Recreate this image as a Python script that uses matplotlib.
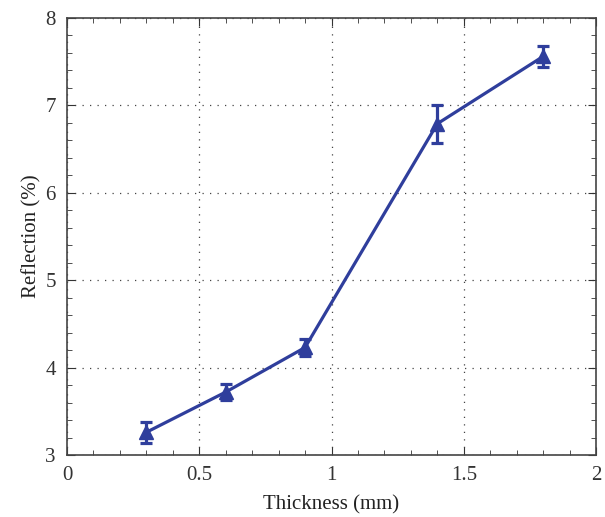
import matplotlib
matplotlib.use("Agg")
import matplotlib.pyplot as plt
from matplotlib.ticker import MultipleLocator

# data
thickness = [0.3, 0.6, 0.9, 1.4, 1.8]
reflection = [3.26, 3.72, 4.23, 6.79, 7.56]
err = [0.12, 0.09, 0.10, 0.22, 0.12]

xticks = [0, 0.5, 1, 1.5, 2]
xtick_labels = ['0', '0.5', '1', '1.5', '2']
yticks = [3, 4, 5, 6, 7, 8]

plt.rcParams['font.family'] = ['Liberation Serif', 'DejaVu Serif']

fig = plt.figure(figsize=(6.05, 5.17), dpi=100)
ax = fig.add_axes([67/605, 62/517, 529/605, 437/517])

ax.errorbar(thickness, reflection, yerr=err, color='#2F3E9C', lw=2.3, marker='^',
            ms=10, capsize=4, capthick=2.3, elinewidth=2.3)

ax.set_xlim(0, 2)
ax.set_ylim(3, 8)
ax.set_xticks(xticks, xtick_labels)
ax.set_yticks(yticks)
ax.xaxis.set_minor_locator(MultipleLocator(0.1))
ax.yaxis.set_minor_locator(MultipleLocator(0.2))
ax.tick_params(which='both', direction='in', top=True, right=True, labelsize=15, colors='#333333')
ax.tick_params(which='major', length=6, pad=8)
ax.tick_params(which='minor', length=3.5)
ax.grid(True, which='major', linestyle=(0, (1, 5)), color='#444444', lw=0.9)
for s in ax.spines.values():
    s.set_color('#444444')
    s.set_linewidth(1.2)

ax.set_xlabel("Thickness (mm)", fontsize=15, color='#222222', labelpad=7)
ax.set_ylabel("Reflection (%)", fontsize=15, color='#222222', labelpad=3)

fig.savefig("out.png", dpi=100)
